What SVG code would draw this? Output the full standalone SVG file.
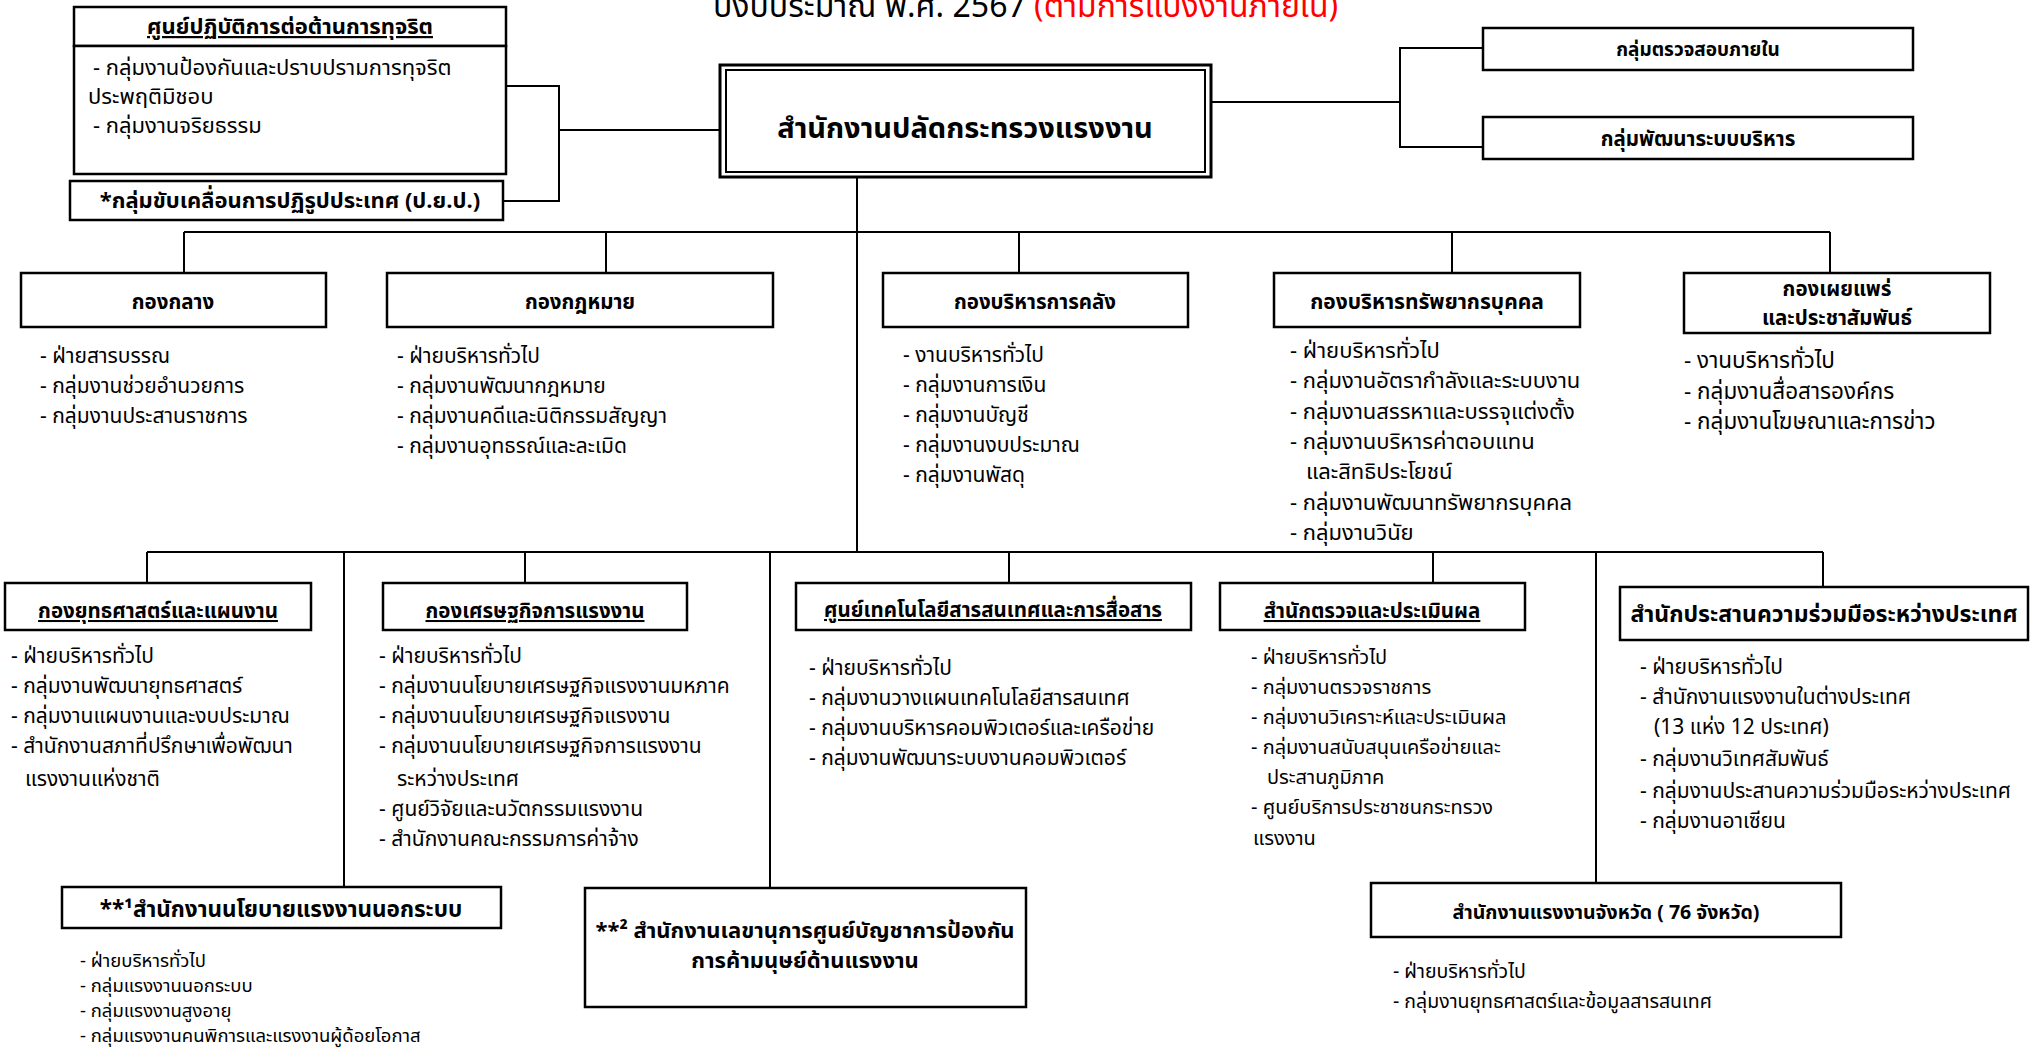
<svg xmlns="http://www.w3.org/2000/svg" width="2032" height="1048" viewBox="0 0 2032 1048">
<style>
text{font-family:'Noto Sans Thai','Noto Sans','DejaVu Sans',sans-serif;fill:#000}
.box{fill:#fff;stroke:#000;stroke-width:2.5}
.hd{font-size:20.5px;font-weight:bold;text-anchor:middle}
.ul{text-decoration:underline}
.it{font-size:21px}
.sm{font-size:18.5px}
.ln{stroke:#000;stroke-width:2;fill:none}
.title{font-size:32px}
</style>
<rect width="2032" height="1048" fill="#fff"/>
<text class="title" x="713" y="17">ปีงบประมาณ พ.ศ. 2567 <tspan fill="#ff0000">(ตามการแบ่งงานภายใน)</tspan></text>

<g id="connectors" class="ln">
<path d="M506 86H559V201H503M559 130H720"/>
<path d="M1211 102H1400M1483 48H1400V147H1483"/>
<path d="M857 177V552"/>
<path d="M184 232H1830M184 232V273M606 232V273M1019 232V273M1452 232V273M1830 232V273"/>
<path d="M147 552H1823M147 552V583M344 552V887M525 552V583M770 552V888M1009 552V583M1433 552V583M1596 552V883M1823 552V590"/>
</g>

<g id="anti-corruption">
<rect class="box" x="74" y="7" width="432" height="39"/>
<rect class="box" x="74" y="46" width="432" height="128"/>
<text class="hd ul" style="font-size:22px" x="290" y="34">ศูนย์ปฏิบัติการต่อต้านการทุจริต</text>
<text class="it" style="font-size:22px" x="93" y="75">- กลุ่มงานป้องกันและปราบปรามการทุจริต</text>
<text class="it" style="font-size:22px" x="88" y="104">ประพฤติมิชอบ</text>
<text class="it" style="font-size:22px" x="93" y="133">- กลุ่มงานจริยธรรม</text>
</g>
<g id="pyp">
<rect class="box" x="70" y="181" width="433" height="39"/>
<text class="hd" style="font-size:22px" x="290" y="208">*กลุ่มขับเคลื่อนการปฏิรูปประเทศ (ป.ย.ป.)</text>
</g>

<g id="main">
<rect x="720" y="65" width="491" height="112" fill="#fff" stroke="#000" stroke-width="3"/>
<rect x="726" y="70" width="479" height="102" fill="none" stroke="#000" stroke-width="2"/>
<text class="hd" style="font-size:29px" x="965" y="138">สำนักงานปลัดกระทรวงแรงงาน</text>
</g>

<g id="internal-audit">
<rect class="box" x="1483" y="28" width="430" height="42"/>
<text class="hd" style="font-size:19px" x="1698" y="56">กลุ่มตรวจสอบภายใน</text>
</g>
<g id="admin-dev">
<rect class="box" x="1483" y="117" width="430" height="42"/>
<text class="hd" x="1698" y="146">กลุ่มพัฒนาระบบบริหาร</text>
</g>

<g id="central">
<rect class="box" x="21" y="273" width="305" height="54"/>
<text class="hd" x="173" y="309">กองกลาง</text>
<text class="it" x="40" y="363">- ฝ่ายสารบรรณ</text>
<text class="it" x="40" y="393">- กลุ่มงานช่วยอำนวยการ</text>
<text class="it" x="40" y="423">- กลุ่มงานประสานราชการ</text>
</g>

<g id="legal">
<rect class="box" x="387" y="273" width="386" height="54"/>
<text class="hd" x="580" y="309">กองกฎหมาย</text>
<text class="it" x="397" y="363">- ฝ่ายบริหารทั่วไป</text>
<text class="it" x="397" y="393">- กลุ่มงานพัฒนากฎหมาย</text>
<text class="it" x="397" y="423">- กลุ่มงานคดีและนิติกรรมสัญญา</text>
<text class="it" x="397" y="453">- กลุ่มงานอุทธรณ์และละเมิด</text>
</g>

<g id="finance">
<rect class="box" x="883" y="273" width="305" height="54"/>
<text class="hd" x="1035" y="309">กองบริหารการคลัง</text>
<text class="it" x="903" y="362">- งานบริหารทั่วไป</text>
<text class="it" x="903" y="392">- กลุ่มงานการเงิน</text>
<text class="it" x="903" y="422">- กลุ่มงานบัญชี</text>
<text class="it" x="903" y="452">- กลุ่มงานงบประมาณ</text>
<text class="it" x="903" y="482">- กลุ่มงานพัสดุ</text>
</g>

<g id="hr">
<rect class="box" x="1274" y="273" width="306" height="54"/>
<text class="hd" style="font-size:21px" x="1427" y="309">กองบริหารทรัพยากรบุคคล</text>
<text class="it" style="font-size:22px" x="1290" y="358">- ฝ่ายบริหารทั่วไป</text>
<text class="it" style="font-size:22px" x="1290" y="388">- กลุ่มงานอัตรากำลังและระบบงาน</text>
<text class="it" style="font-size:22px" x="1290" y="419">- กลุ่มงานสรรหาและบรรจุแต่งตั้ง</text>
<text class="it" style="font-size:22px" x="1290" y="449">- กลุ่มงานบริหารค่าตอบแทน</text>
<text class="it" style="font-size:22px" x="1306" y="479">และสิทธิประโยชน์</text>
<text class="it" style="font-size:22px" x="1290" y="510">- กลุ่มงานพัฒนาทรัพยากรบุคคล</text>
<text class="it" style="font-size:22px" x="1290" y="540">- กลุ่มงานวินัย</text>
</g>

<g id="pr">
<rect class="box" x="1684" y="273" width="306" height="60"/>
<text class="hd" x="1837" y="296">กองเผยแพร่</text>
<text class="hd" x="1837" y="325">และประชาสัมพันธ์</text>
<text class="it" style="font-size:22.5px" x="1684" y="368">- งานบริหารทั่วไป</text>
<text class="it" style="font-size:22.5px" x="1684" y="399">- กลุ่มงานสื่อสารองค์กร</text>
<text class="it" style="font-size:22.5px" x="1684" y="429">- กลุ่มงานโฆษณาและการข่าว</text>
</g>

<g id="strategy">
<rect class="box" x="5" y="583" width="306" height="47"/>
<text class="hd ul" x="158" y="618">กองยุทธศาสตร์และแผนงาน</text>
<text class="it" x="11" y="663">- ฝ่ายบริหารทั่วไป</text>
<text class="it" x="11" y="693">- กลุ่มงานพัฒนายุทธศาสตร์</text>
<text class="it" x="11" y="723">- กลุ่มงานแผนงานและงบประมาณ</text>
<text class="it" x="11" y="753">- สำนักงานสภาที่ปรึกษาเพื่อพัฒนา</text>
<text class="it" x="25" y="786">แรงงานแห่งชาติ</text>
</g>

<g id="labour-economics">
<rect class="box" x="383" y="583" width="304" height="47"/>
<text class="hd ul" x="535" y="618">กองเศรษฐกิจการแรงงาน</text>
<text class="it" x="379" y="663">- ฝ่ายบริหารทั่วไป</text>
<text class="it" x="379" y="693">- กลุ่มงานนโยบายเศรษฐกิจแรงงานมหภาค</text>
<text class="it" x="379" y="723">- กลุ่มงานนโยบายเศรษฐกิจแรงงาน</text>
<text class="it" x="379" y="753">- กลุ่มงานนโยบายเศรษฐกิจการแรงงาน</text>
<text class="it" x="397" y="786">ระหว่างประเทศ</text>
<text class="it" x="379" y="816">- ศูนย์วิจัยและนวัตกรรมแรงงาน</text>
<text class="it" x="379" y="846">- สำนักงานคณะกรรมการค่าจ้าง</text>
</g>

<g id="ict">
<rect class="box" x="796" y="583" width="395" height="47"/>
<text class="hd ul" x="993" y="617">ศูนย์เทคโนโลยีสารสนเทศและการสื่อสาร</text>
<text class="it" x="809" y="675">- ฝ่ายบริหารทั่วไป</text>
<text class="it" x="809" y="705">- กลุ่มงานวางแผนเทคโนโลยีสารสนเทศ</text>
<text class="it" x="809" y="735">- กลุ่มงานบริหารคอมพิวเตอร์และเครือข่าย</text>
<text class="it" x="809" y="765">- กลุ่มงานพัฒนาระบบงานคอมพิวเตอร์</text>
</g>

<g id="inspection">
<rect class="box" x="1220" y="583" width="305" height="47"/>
<text class="hd ul" x="1372" y="618">สำนักตรวจและประเมินผล</text>
<text class="it" style="font-size:20px" x="1251" y="664">- ฝ่ายบริหารทั่วไป</text>
<text class="it" style="font-size:20px" x="1251" y="694">- กลุ่มงานตรวจราชการ</text>
<text class="it" style="font-size:20px" x="1251" y="724">- กลุ่มงานวิเคราะห์และประเมินผล</text>
<text class="it" style="font-size:20px" x="1251" y="754">- กลุ่มงานสนับสนุนเครือข่ายและ</text>
<text class="it" style="font-size:20px" x="1267" y="784">ประสานภูมิภาค</text>
<text class="it" style="font-size:20px" x="1251" y="814">- ศูนย์บริการประชาชนกระทรวง</text>
<text class="it" style="font-size:20px" x="1253" y="845">แรงงาน</text>
</g>

<g id="international">
<rect class="box" x="1620" y="587" width="408" height="53"/>
<text class="hd" style="font-size:23px" x="1824" y="622">สำนักประสานความร่วมมือระหว่างประเทศ</text>
<text class="it" x="1640" y="674">- ฝ่ายบริหารทั่วไป</text>
<text class="it" x="1640" y="704">- สำนักงานแรงงานในต่างประเทศ</text>
<text class="it" x="1654" y="734">(13 แห่ง 12 ประเทศ)</text>
<text class="it" x="1640" y="766">- กลุ่มงานวิเทศสัมพันธ์</text>
<text class="it" x="1640" y="798">- กลุ่มงานประสานความร่วมมือระหว่างประเทศ</text>
<text class="it" x="1640" y="828">- กลุ่มงานอาเซียน</text>
</g>

<g id="informal-labour">
<rect class="box" x="62" y="887" width="439" height="41"/>
<text class="hd" style="font-size:22.5px" x="281" y="917">**¹สำนักงานนโยบายแรงงานนอกระบบ</text>
<text class="sm" x="80" y="967">- ฝ่ายบริหารทั่วไป</text>
<text class="sm" x="80" y="992">- กลุ่มแรงงานนอกระบบ</text>
<text class="sm" x="80" y="1017">- กลุ่มแรงงานสูงอายุ</text>
<text class="sm" x="80" y="1042">- กลุ่มแรงงานคนพิการและแรงงานผู้ด้อยโอกาส</text>
</g>

<g id="anti-trafficking">
<rect class="box" x="585" y="888" width="441" height="119"/>
<text class="hd" style="font-size:22px" x="805" y="938">**² สำนักงานเลขานุการศูนย์บัญชาการป้องกัน</text>
<text class="hd" style="font-size:22px" x="805" y="968">การค้ามนุษย์ด้านแรงงาน</text>
</g>

<g id="provincial">
<rect class="box" x="1371" y="883" width="470" height="54"/>
<text class="hd" style="font-size:19.5px" x="1606" y="919">สำนักงานแรงงานจังหวัด ( 76 จังหวัด)</text>
<text class="sm" style="font-size:19.5px" x="1393" y="978">- ฝ่ายบริหารทั่วไป</text>
<text class="sm" style="font-size:19.5px" x="1393" y="1008">- กลุ่มงานยุทธศาสตร์และข้อมูลสารสนเทศ</text>
</g>
</svg>
